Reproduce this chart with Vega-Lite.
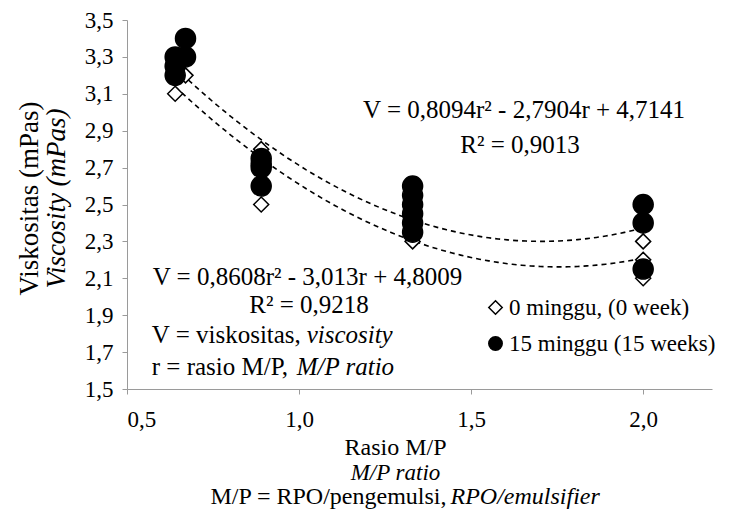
{
  "$schema": "https://vega.github.io/schema/vega-lite/v6.json",
  "width": 585,
  "height": 369,
  "autosize": "none",
  "padding": {"left": 127, "top": 20, "right": 17, "bottom": 126},
  "config": {
    "font": "Liberation Serif, Times New Roman, serif",
    "view": {"stroke": null},
    "axis": {
      "grid": false,
      "domainColor": "#9a9a9a",
      "tickColor": "#9a9a9a",
      "labelColor": "#000000",
      "titleColor": "#000000",
      "labelFont": "Liberation Serif, Times New Roman, serif",
      "titleFont": "Liberation Serif, Times New Roman, serif",
      "labelFontSize": 23,
      "titleFontSize": 23,
      "titleFontWeight": "normal",
      "tickSize": 5
    },
    "legend": {
      "labelFont": "Liberation Serif, Times New Roman, serif",
      "labelFontSize": 23,
      "labelColor": "#000000",
      "labelLimit": 400,
      "symbolSize": 180,
      "symbolStrokeWidth": 1.5,
      "symbolStrokeColor": "#000000",
      "rowPadding": 12,
      "labelOffset": 2,
      "padding": 0
    },
    "text": {"font": "Liberation Serif, Times New Roman, serif", "fontSize": 25, "color": "#000000"}
  },
  "datasets": {
    "obs": [
      {"r": 0.64, "V": 3.1, "series": "0 minggu, (0 week)"},
      {"r": 0.64, "V": 3.2, "series": "0 minggu, (0 week)"},
      {"r": 0.67, "V": 3.2, "series": "0 minggu, (0 week)"},
      {"r": 0.89, "V": 2.8, "series": "0 minggu, (0 week)"},
      {"r": 0.89, "V": 2.7, "series": "0 minggu, (0 week)"},
      {"r": 0.89, "V": 2.5, "series": "0 minggu, (0 week)"},
      {"r": 1.33, "V": 2.4, "series": "0 minggu, (0 week)"},
      {"r": 1.33, "V": 2.35, "series": "0 minggu, (0 week)"},
      {"r": 1.33, "V": 2.3, "series": "0 minggu, (0 week)"},
      {"r": 2.0, "V": 2.3, "series": "0 minggu, (0 week)"},
      {"r": 2.0, "V": 2.2, "series": "0 minggu, (0 week)"},
      {"r": 2.0, "V": 2.1, "series": "0 minggu, (0 week)"},
      {"r": 0.64, "V": 3.2, "series": "15 minggu (15 weeks)"},
      {"r": 0.64, "V": 3.25, "series": "15 minggu (15 weeks)"},
      {"r": 0.64, "V": 3.3, "series": "15 minggu (15 weeks)"},
      {"r": 0.67, "V": 3.3, "series": "15 minggu (15 weeks)"},
      {"r": 0.67, "V": 3.4, "series": "15 minggu (15 weeks)"},
      {"r": 0.89, "V": 2.75, "series": "15 minggu (15 weeks)"},
      {"r": 0.89, "V": 2.72, "series": "15 minggu (15 weeks)"},
      {"r": 0.89, "V": 2.7, "series": "15 minggu (15 weeks)"},
      {"r": 0.89, "V": 2.6, "series": "15 minggu (15 weeks)"},
      {"r": 1.33, "V": 2.6, "series": "15 minggu (15 weeks)"},
      {"r": 1.33, "V": 2.55, "series": "15 minggu (15 weeks)"},
      {"r": 1.33, "V": 2.5, "series": "15 minggu (15 weeks)"},
      {"r": 1.33, "V": 2.45, "series": "15 minggu (15 weeks)"},
      {"r": 1.33, "V": 2.4, "series": "15 minggu (15 weeks)"},
      {"r": 1.33, "V": 2.35, "series": "15 minggu (15 weeks)"},
      {"r": 2.0, "V": 2.5, "series": "15 minggu (15 weeks)"},
      {"r": 2.0, "V": 2.4, "series": "15 minggu (15 weeks)"},
      {"r": 2.0, "V": 2.15, "series": "15 minggu (15 weeks)"}
    ],
    "notes": [
      {"r": 1.654, "V": 2.967, "label": "V = 0,8094r² - 2,7904r + 4,7141", "kind": "center"},
      {"r": 1.642, "V": 2.778, "label": "R² = 0,9013", "kind": "center"},
      {"r": 1.0245, "V": 2.064, "label": "V = 0,8608r² - 3,013r + 4,8009", "kind": "center"},
      {"r": 1.029, "V": 1.91, "label": "R² = 0,9218", "kind": "center"},
      {"r": 0.572, "V": 1.748, "label": "V = viskositas,", "kind": "left"},
      {"r": 0.572, "V": 1.576, "label": "r = rasio M/P,", "kind": "left"},
      {"r": 1.022, "V": 1.748, "label": "viscosity", "kind": "italic"},
      {"r": 0.993, "V": 1.576, "label": "M/P ratio", "kind": "italic"}
    ]
  },
  "resolve": {"scale": {"x": "independent", "y": "independent"}},
  "layer": [
    {
      "data": {"name": "obs"},
      "transform": [
        {"filter": "datum.series == '0 minggu, (0 week)'"},
        {"regression": "V", "on": "r", "method": "poly", "order": 2, "extent": [0.64, 2.0]}
      ],
      "mark": {"type": "line", "stroke": "#000000", "strokeDash": [5, 4], "strokeWidth": 1.6},
      "encoding": {
        "x": {"field": "r", "type": "quantitative",
          "scale": {"domain": [0.5, 2.2], "nice": false, "zero": false},
          "axis": {"orient": "bottom", "labels": false, "ticks": false, "domain": false,
            "title": "M/P ratio", "titleFontStyle": "italic", "titleX": 268, "titleY": 90, "titleBaseline": "alphabetic"}},
        "y": {"field": "V", "type": "quantitative",
          "scale": {"domain": [1.5, 3.5], "nice": false, "zero": false},
          "axis": {"orient": "left", "labels": false, "ticks": false, "domain": false,
            "title": "Viskositas (mPas)", "titleFontSize": 27, "titleX": -90, "titleY": 178, "titleBaseline": "alphabetic"}}
      }
    },
    {
      "data": {"name": "obs"},
      "transform": [
        {"filter": "datum.series == '15 minggu (15 weeks)'"},
        {"regression": "V", "on": "r", "method": "poly", "order": 2, "extent": [0.64, 2.0]}
      ],
      "mark": {"type": "line", "stroke": "#000000", "strokeDash": [5, 4], "strokeWidth": 1.6},
      "encoding": {
        "x": {"field": "r", "type": "quantitative",
          "scale": {"domain": [0.5, 2.2], "nice": false, "zero": false},
          "axis": {"orient": "bottom", "labels": false, "ticks": false, "domain": false,
            "title": "M/P = RPO/pengemulsi,", "titleFontSize": 24, "titleAlign": "right", "titleX": 319, "titleY": 114, "titleBaseline": "alphabetic"}},
        "y": {"field": "V", "type": "quantitative",
          "scale": {"domain": [1.5, 3.5], "nice": false, "zero": false}, "axis": null}
      }
    },
    {
      "data": {"name": "obs"},
      "transform": [{"filter": "datum.series == '0 minggu, (0 week)'"}],
      "mark": {"type": "point", "filled": true, "stroke": "#000000", "strokeWidth": 1.5, "opacity": 1, "size": 225},
      "encoding": {
        "x": {"field": "r", "type": "quantitative",
          "scale": {"domain": [0.5, 2.2], "nice": false, "zero": false},
          "axis": {"orient": "bottom", "values": [0.5, 1.0, 1.5, 2.0],
            "labelExpr": "replace(format(datum.value, '.1f'), '.', ',')",
            "labelPadding": 14, "title": "Rasio M/P", "titleFontSize": 24, "titleX": 268, "titleY": 65, "titleBaseline": "alphabetic"}},
        "y": {"field": "V", "type": "quantitative",
          "scale": {"domain": [1.5, 3.5], "nice": false, "zero": false},
          "axis": {"orient": "left", "values": [1.5, 1.7, 1.9, 2.1, 2.3, 2.5, 2.7, 2.9, 3.1, 3.3, 3.5],
            "labelExpr": "replace(format(datum.value, '.1f'), '.', ',')",
            "labelPadding": 9, "title": "Viscosity (mPas)", "titleFontStyle": "italic", "titleFontSize": 27,
            "titleX": -63, "titleY": 178, "titleBaseline": "alphabetic"}},
        "shape": {"field": "series", "type": "nominal",
          "scale": {"domain": ["0 minggu, (0 week)", "15 minggu (15 weeks)"], "range": ["diamond", "circle"]},
          "legend": {"title": null, "orient": "none", "legendX": 357, "legendY": 276, "labelLimit": 400}},
        "color": {"field": "series", "type": "nominal",
          "scale": {"domain": ["0 minggu, (0 week)", "15 minggu (15 weeks)"], "range": ["#ffffff", "#000000"]},
          "legend": {"title": null, "orient": "none", "legendX": 357, "legendY": 276, "labelLimit": 400,
            "symbolStrokeColor": "#000000", "symbolStrokeWidth": 1.5}}
      }
    },
    {
      "data": {"name": "obs"},
      "transform": [{"filter": "datum.series == '15 minggu (15 weeks)'"}],
      "mark": {"type": "point", "filled": true, "stroke": "#000000", "strokeWidth": 1.5, "opacity": 1, "size": 400},
      "encoding": {
        "x": {"field": "r", "type": "quantitative",
          "scale": {"domain": [0.5, 2.2], "nice": false, "zero": false}, "axis": null},
        "y": {"field": "V", "type": "quantitative",
          "scale": {"domain": [1.5, 3.5], "nice": false, "zero": false}, "axis": null},
        "shape": {"field": "series", "type": "nominal",
          "scale": {"domain": ["0 minggu, (0 week)", "15 minggu (15 weeks)"], "range": ["diamond", "circle"]}},
        "color": {"field": "series", "type": "nominal",
          "scale": {"domain": ["0 minggu, (0 week)", "15 minggu (15 weeks)"], "range": ["#ffffff", "#000000"]}}
      }
    },
    {
      "data": {"name": "notes"},
      "transform": [{"filter": "datum.kind == 'center'"}],
      "mark": {"type": "text", "align": "center", "baseline": "alphabetic"},
      "encoding": {
        "x": {"field": "r", "type": "quantitative",
          "scale": {"domain": [0.5, 2.2], "nice": false, "zero": false},
          "axis": {"orient": "bottom", "labels": false, "ticks": false, "domain": false,
            "title": "RPO/emulsifier", "titleFontSize": 24, "titleFontStyle": "italic", "titleAlign": "left", "titleX": 323, "titleY": 114, "titleBaseline": "alphabetic"}},
        "y": {"field": "V", "type": "quantitative",
          "scale": {"domain": [1.5, 3.5], "nice": false, "zero": false}, "axis": null},
        "text": {"field": "label"}
      }
    },
    {
      "data": {"name": "notes"},
      "transform": [{"filter": "datum.kind == 'left'"}],
      "mark": {"type": "text", "align": "left", "baseline": "alphabetic"},
      "encoding": {
        "x": {"field": "r", "type": "quantitative",
          "scale": {"domain": [0.5, 2.2], "nice": false, "zero": false}, "axis": null},
        "y": {"field": "V", "type": "quantitative",
          "scale": {"domain": [1.5, 3.5], "nice": false, "zero": false}, "axis": null},
        "text": {"field": "label"}
      }
    },
    {
      "data": {"name": "notes"},
      "transform": [{"filter": "datum.kind == 'italic'"}],
      "mark": {"type": "text", "align": "left", "baseline": "alphabetic", "fontStyle": "italic"},
      "encoding": {
        "x": {"field": "r", "type": "quantitative",
          "scale": {"domain": [0.5, 2.2], "nice": false, "zero": false}, "axis": null},
        "y": {"field": "V", "type": "quantitative",
          "scale": {"domain": [1.5, 3.5], "nice": false, "zero": false}, "axis": null},
        "text": {"field": "label"}
      }
    }
  ]
}
